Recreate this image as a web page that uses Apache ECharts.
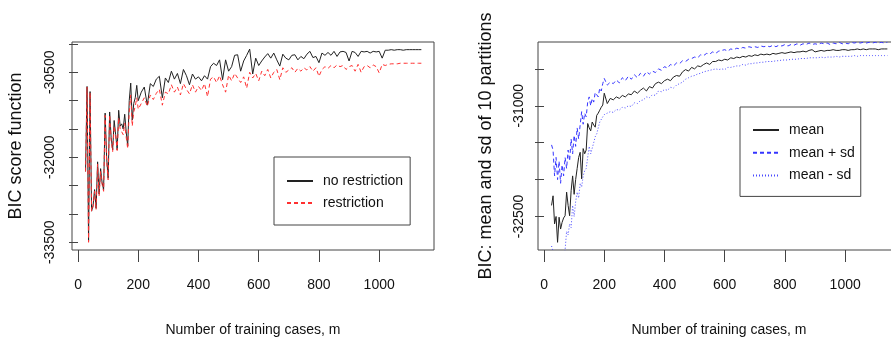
<!DOCTYPE html>
<html>
<head>
<meta charset="utf-8">
<script src="https://cdn.jsdelivr.net/npm/echarts@6/dist/echarts.min.js"></script>
<style>
  html, body {margin: 0; background: #fff;}
  #chart {width: 891px; height: 340px;}
</style>
</head>
<body>
<div id="chart"></div>
<script>
// training set sizes (x values)
const m = [
  25, 30, 35, 40, 45, 50, 55, 60, 65, 70, 75, 80, 85, 90, 95, 100, 105, 110,
  115, 120, 125, 130, 135, 140, 145, 150, 155, 160, 165, 170, 175, 180, 185, 190, 195, 200,
  210, 220, 230, 240, 250, 260, 270, 280, 290, 300, 310, 320, 330, 340, 350, 360, 370, 380,
  390, 400, 410, 420, 430, 440,
  450, 460, 470, 480, 490, 500, 510, 520, 530, 540,
  550, 560, 570, 580, 590, 600, 610, 620, 630, 640,
  650, 660, 670, 680, 690, 700, 710, 720, 730, 740,
  750, 760, 770, 780, 790, 800, 810, 820, 830, 840,
  850, 860, 870, 880, 890, 900, 910, 920, 930, 940,
  950, 960, 970, 980, 990, 1000, 1010, 1020, 1030, 1040,
  1050, 1060, 1070, 1080, 1090, 1100, 1110, 1120, 1130, 1140
];

// left panel: BIC score
const noRestriction = [
  -32250, -30750, -33480, -30840, -32950, -32850, -32570, -32900, -32080, -32650,
  -32200, -32450, -32570, -31220, -32000, -32370, -31200, -31650, -31870, -31350,
  -31600, -31870, -31170, -31450, -31410, -31500, -31240, -31550, -31800, -31000,
  -30690, -31340, -31050, -30950, -30730, -31000,
  -30850, -30760, -31080, -30700, -30750, -30620, -30570, -30950, -30600, -30680,
  -30480, -30620, -30520, -30700, -30450, -30560, -30720, -30530, -30620, -30580,
  -30650, -30560, -30620, -30400,
  -30340, -30380, -30280, -30630, -30280, -30480, -30400, -30200, -30190, -30480,
  -30300, -30200, -30090, -30530, -30250, -30380, -30300, -30230, -30170, -30250,
  -30160, -30280, -30390, -30180, -30250, -30280, -30200, -30190, -30280, -30220,
  -30260, -30180, -30130, -30240, -30220, -30330, -30160, -30200, -30150, -30200,
  -30130, -30220, -30140, -30130, -30150, -30300, -30130, -30150, -30220, -30130,
  -30140, -30130, -30160, -30130, -30140, -30130, -30250, -30110, -30110, -30100,
  -30110, -30100, -30100, -30110, -30100, -30100, -30100, -30100, -30100, -30100
];
const restriction = [
  -32250, -30760, -33500, -30860, -32950, -32870, -32600, -32920, -32120, -32680,
  -32250, -32480, -32600, -31260, -32050, -32400, -31250, -31700, -31900, -31450,
  -31620, -31880, -31300, -31500, -31550, -31600, -31400, -31650, -31850, -31200,
  -30900, -31450, -31200, -31100, -30950, -31150,
  -31050, -30950, -31100, -30900, -30980, -30870, -30800, -31080, -30850, -30880,
  -30720, -30850, -30760, -30900, -30700, -30800, -30880, -30720, -30850, -30750,
  -30820, -30700, -30930, -30620,
  -30580, -30680, -30560, -30720, -30850, -30550, -30650, -30520, -30600, -30680,
  -30580, -30780, -30500, -30600, -30520, -30650, -30480, -30560, -30450, -30600,
  -30500, -30450, -30630, -30420, -30500, -30460, -30420, -30500, -30430, -30480,
  -30420, -30460, -30400, -30480, -30420, -30570, -30450, -30400, -30430, -30380,
  -30420, -30370, -30400, -30380, -30450, -30400, -30380, -30480, -30360, -30500,
  -30400, -30380, -30420, -30370, -30400, -30510, -30360, -30380, -30360, -30350,
  -30350, -30350, -30340, -30340, -30340, -30340, -30340, -30340, -30340, -30340
];

// right panel: mean and sd of 10 partitions
const meanBic = [
  -32350, -32220, -32600, -32500, -32850, -32510, -32670, -32580, -32520, -32490,
  -32170, -32350, -32490, -32150, -31950, -32200, -32000, -31850, -31700, -31630,
  -31990, -31580, -31650, -31600, -31240, -31300, -31340, -31220, -31260, -31290,
  -31130, -31100, -31060, -31020, -30990, -30830,
  -30970, -30900, -30920, -30880, -30900, -30860, -30880, -30840, -30850, -30800,
  -30830, -30790, -30760, -30800, -30740, -30760, -30700, -30680, -30700, -30660,
  -30640, -30660, -30610, -30590,
  -30600, -30540, -30510, -30530, -30480, -30500, -30460, -30470, -30440, -30420,
  -30440, -30400, -30400, -30380, -30390, -30370, -30380, -30350, -30360, -30340,
  -30350, -30330, -30340, -30320, -30330, -30310, -30320, -30300, -30310, -30300,
  -30310, -30290, -30300, -30290, -30280, -30290, -30280, -30270, -30280, -30270,
  -30270, -30260, -30270, -30250, -30240, -30270, -30260, -30250, -30260, -30250,
  -30250, -30240, -30250, -30250, -30240, -30240, -30250, -30240, -30240, -30230,
  -30240, -30230, -30240, -30230, -30230, -30230, -30240, -30230, -30230, -30230
];
const meanPlusSd = [
  -31530, -31600, -31950, -31700, -32000, -31750, -32050, -31800, -31950, -31700,
  -31850, -31600, -31750, -31450, -31650, -31400, -31550, -31300, -31450, -31260,
  -31080, -31250, -31100, -31150, -30950, -30880, -31000, -30900, -30950, -30820,
  -30810, -30880, -30760, -30800, -30700, -30630,
  -30720, -30680, -30700, -30650, -30690, -30620, -30660, -30600, -30640, -30580,
  -30620, -30560, -30600, -30540, -30570, -30530, -30550, -30500, -30520, -30470,
  -30490, -30440, -30460, -30420,
  -30430, -30390, -30400, -30370, -30360, -30340, -30350, -30310, -30320, -30290,
  -30300, -30270, -30290, -30260, -30250, -30240, -30260, -30230, -30240, -30220,
  -30230, -30210, -30220, -30200, -30210, -30200, -30210, -30190, -30200, -30190,
  -30200, -30180, -30200, -30180, -30190, -30170, -30190, -30170, -30180, -30160,
  -30180, -30160, -30170, -30150, -30170, -30160, -30170, -30150, -30160, -30150,
  -30170, -30150, -30160, -30140, -30160, -30150, -30160, -30140, -30150, -30140,
  -30150, -30140, -30150, -30140, -30150, -30140, -30150, -30140, -30150, -30140
];
const meanMinusSd = [
  -32900, -32920, -33050, -33150, -33100, -33200, -33150, -33100, -33050, -32950,
  -32700, -32750, -32600, -32650, -32350, -32500, -32300, -32170, -32250, -32050,
  -32100, -31950, -31880, -31850, -31700, -31550, -31650, -31670, -31500, -31420,
  -31380, -31300, -31220, -31200, -31150, -31120,
  -31100, -31080, -31090, -31050, -31060, -31020, -31030, -31000, -31010, -30960,
  -30970, -30930, -30920, -30880, -30890, -30850, -30860, -30800, -30810, -30780,
  -30790, -30750, -30760, -30720,
  -30700, -30680, -30640, -30620, -30600, -30590, -30570, -30560, -30540, -30530,
  -30520, -30510, -30500, -30510, -30500, -30510, -30480, -30480, -30470, -30460,
  -30460, -30440, -30450, -30430, -30430, -30420, -30420, -30410, -30410, -30400,
  -30400, -30400, -30390, -30390, -30380, -30380, -30380, -30370, -30370, -30370,
  -30360, -30360, -30360, -30350, -30350, -30350, -30350, -30340, -30350, -30340,
  -30340, -30340, -30330, -30340, -30330, -30330, -30330, -30330, -30320, -30330,
  -30320, -30320, -30320, -30320, -30320, -30320, -30320, -30320, -30320, -30320
];

const xTicks = [0, 200, 400, 600, 800, 1000];
const leftYTicks = [-33500, -33000, -32500, -32000, -31500, -31000, -30500, -30000];
const leftYLabels = [-33500, -32000, -30500];
const rightYTicks = [-32500, -32000, -31500, -31000, -30500];
const rightYLabels = [-32500, -31000];

const sans = "'Liberation Sans', Arial, sans-serif";
const ink = '#111';
const frame = '#444';

const pairs = ys => m.map((x, i) => [x, ys[i]]);

function makeX(gridIndex) {
  return {
    type: 'value', gridIndex, min: -20, max: 1182,
    axisLine: {show: false},
    splitLine: {show: false},
    axisTick: {show: true, length: 12, customValues: xTicks, lineStyle: {color: frame}},
    axisLabel: {customValues: xTicks, margin: 28, fontFamily: sans, fontSize: 14, color: ink,
      formatter: v => String(v)},
    name: 'Number of training cases, m', nameLocation: 'middle', nameGap: 73,
    nameTextStyle: {fontFamily: sans, fontSize: 14, color: ink}
  };
}

function makeY(gridIndex, min, max, ticks, labels, name, nameGap, margin) {
  return {
    type: 'value', gridIndex, min, max,
    axisLine: {show: false},
    splitLine: {show: false},
    axisTick: {show: true, length: 9, customValues: ticks, lineStyle: {color: frame}},
    axisLabel: {customValues: labels, rotate: 90, margin, fontFamily: sans, fontSize: 14, color: ink,
      formatter: v => String(v)},
    name, nameLocation: 'middle', nameGap,
    nameTextStyle: {fontFamily: sans, fontSize: 18, color: ink}
  };
}

const legendBase = {
  orient: 'vertical', itemWidth: 26, itemHeight: 14,
  borderColor: frame, borderWidth: 1, borderRadius: 0,
  itemStyle: {opacity: 0},
  textStyle: {fontFamily: sans, fontSize: 14, color: ink, padding: [0, 0, 0, 5]}
};

const chart = echarts.init(document.getElementById('chart'));
chart.setOption({
  animation: false,
  backgroundColor: '#fff',
  grid: [
    {left: 72, top: 42, right: 457, bottom: 90, show: true, borderColor: frame, borderWidth: 1,
      outerBoundsMode: 'none'},
    {left: 538, top: 42, right: -9, bottom: 90, show: true, borderColor: frame, borderWidth: 1,
      outerBoundsMode: 'none'}
  ],
  xAxis: [makeX(0), makeX(1)],
  yAxis: [
    makeY(0, -33636, -29965, leftYTicks, leftYLabels, 'BIC score function', 47, 15),
    makeY(1, -32954, -30136, rightYTicks, rightYLabels, 'BIC: mean and sd of 10 partitions', 43, 12)
  ],
  legend: [
    Object.assign({}, legendBase, {
      data: ['no restriction', 'restriction'],
      left: 274, top: 157, itemGap: 8, padding: [17, 7, 15, 12]
    }),
    Object.assign({}, legendBase, {
      data: ['mean', 'mean + sd', 'mean - sd'],
      left: 740, top: 107, itemGap: 8.7, padding: [16, 6, 14, 12]
    })
  ],
  series: [
    {name: 'no restriction', type: 'line', xAxisIndex: 0, yAxisIndex: 0, data: pairs(noRestriction),
      symbol: 'none', lineStyle: {color: '#222', width: 1}, itemStyle: {color: '#222'}},
    {name: 'restriction', type: 'line', xAxisIndex: 0, yAxisIndex: 0, data: pairs(restriction),
      symbol: 'none', lineStyle: {color: '#ff3030', width: 1, type: [4, 3]}, itemStyle: {color: '#ff3030'}},
    {name: 'mean', type: 'line', xAxisIndex: 1, yAxisIndex: 1, data: pairs(meanBic),
      symbol: 'none', lineStyle: {color: '#222', width: 1}, itemStyle: {color: '#222'}},
    {name: 'mean + sd', type: 'line', xAxisIndex: 1, yAxisIndex: 1, data: pairs(meanPlusSd),
      symbol: 'none', lineStyle: {color: '#3535ff', width: 1, type: [4, 3]}, itemStyle: {color: '#3535ff'}},
    {name: 'mean - sd', type: 'line', xAxisIndex: 1, yAxisIndex: 1, data: pairs(meanMinusSd),
      symbol: 'none', lineStyle: {color: '#4a4aff', width: 1, type: [1, 2]}, itemStyle: {color: '#4a4aff'}}
  ]
});
</script>
</body>
</html>
